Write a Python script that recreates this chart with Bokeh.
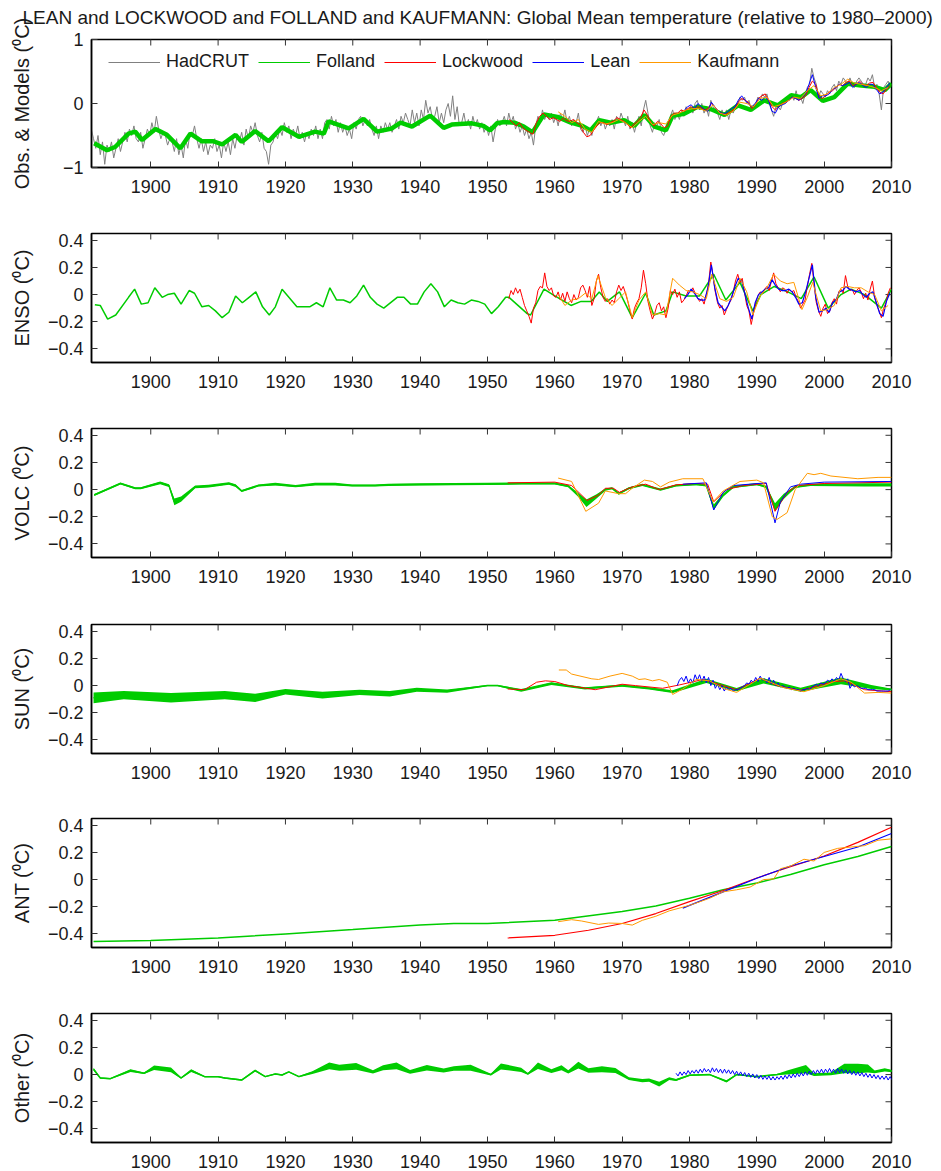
import numpy as np
from bokeh.plotting import figure
from bokeh.models import Range1d, FixedTicker, CustomJSTickFormatter
from bokeh.layouts import column
from bokeh.embed import file_html
from bokeh.resources import INLINE

FONT = "Liberation Sans"
X0, X1 = 1891.2, 2010.0
XTICKS = list(range(1900, 2011, 10))
C_HAD, C_FOL, C_LOC, C_LEAN, C_KAU = "#808080", "#00cc00", "#ff0000", "#0000ff", "#ff9900"
C_TICK = "#333333"

TITLE = "LEAN and LOCKWOOD and FOLLAND and KAUFMANN: Global Mean temperature (relative to 1980\u20132000)"
YLABELS = ["Obs. & Models (\u2070C)", "ENSO (\u2070C)", "VOLC (\u2070C)", "SUN (\u2070C)", "ANT (\u2070C)", "Other (\u2070C)"]
LEGEND_LABELS = ["HadCRUT", "Folland", "Lockwood", "Lean", "Kaufmann"]

# ---------------- Panel 1: observations & models ----------------
had_t = np.arange(1891 + 1 / 6, 2010, 1 / 3)
had_v = [
    -0.40, -0.55, -0.70, -0.50, -0.80, -0.60, -0.95, -0.65, -0.75, -0.60, -0.85, -0.70, -0.55, -0.75, -0.60,
    -0.45, -0.60, -0.40, -0.50, -0.35, -0.55, -0.60, -0.45, -0.70, -0.55, -0.40, -0.50,
    -0.30, -0.45, -0.20, -0.40, -0.55, -0.45, -0.50, -0.65, -0.55, -0.60, -0.75, -0.55, -0.80, -0.65, -0.85,
    -0.55, -0.70, -0.45, -0.50, -0.35, -0.55, -0.70, -0.55, -0.75, -0.60, -0.80, -0.65, -0.70, -0.55, -0.75,
    -0.65, -0.85, -0.60, -0.75, -0.60, -0.80, -0.55, -0.70, -0.50, -0.60, -0.45, -0.65, -0.40, -0.55, -0.35,
    -0.45, -0.30, -0.50, -0.60, -0.45, -0.70, -0.75, -0.95, -0.65, -0.60, -0.45, -0.55, -0.40, -0.50, -0.30,
    -0.45, -0.35, -0.55, -0.40, -0.50, -0.35, -0.55, -0.45, -0.60, -0.45, -0.55, -0.40, -0.50, -0.35, -0.55,
    -0.40, -0.55, -0.30, -0.25, -0.40, -0.20, -0.35, -0.25, -0.45, -0.30, -0.45, -0.35, -0.50, -0.40, -0.55,
    -0.30, -0.40, -0.25, -0.20, -0.35, -0.25, -0.35, -0.25, -0.40, -0.50, -0.35, -0.55, -0.35, -0.45, -0.30,
    -0.40, -0.30, -0.45, -0.35, -0.25, -0.40, -0.20, -0.30, -0.15, -0.25, -0.35, -0.10, -0.30, -0.15, -0.35,
    -0.10, -0.25, 0.05, -0.15, -0.05, -0.25, -0.20, -0.05, -0.30, -0.15, -0.30, -0.10, 0.00, -0.20, 0.12,
    -0.25, -0.05, -0.35, -0.30, -0.15, -0.35, -0.25, -0.40, -0.20, -0.35, -0.25, -0.40, -0.30, -0.45, -0.35,
    -0.50, -0.35, -0.60, -0.40, -0.25, -0.35, -0.30, -0.20, -0.35, -0.15, -0.30, -0.20, -0.40, -0.30, -0.45,
    -0.35, -0.50, -0.40, -0.55, -0.45, -0.65, -0.35, -0.20, -0.30, -0.10, -0.25, -0.15, -0.25, -0.15, -0.30,
    -0.20, -0.35, -0.15, -0.25, -0.10, -0.30, -0.20, -0.35, -0.25, -0.30, -0.15, -0.40, -0.45, -0.35, -0.50,
    -0.40, -0.50, -0.35, -0.30, -0.20, -0.35, -0.25, -0.40, -0.30, -0.35, -0.25, -0.40, -0.20, -0.30, -0.15,
    -0.25, -0.35, -0.20, -0.40, -0.30, -0.45, -0.30, -0.20, -0.35, -0.10, 0.05, -0.15, -0.35, -0.45, -0.30,
    -0.35, -0.25, -0.45, -0.50, -0.40, -0.35, -0.20, -0.10, -0.25, -0.15, -0.25, -0.10, -0.20, -0.05, -0.15,
    -0.05, -0.15, 0.00, 0.05, -0.10, 0.00, -0.15, -0.05, -0.20, 0.05, -0.05, -0.10, -0.15, -0.25, -0.10,
    -0.20, -0.10, -0.25, -0.10, -0.15, -0.05, 0.00, 0.10, 0.05, 0.10, 0.00, 0.05, -0.10, -0.05, 0.00,
    0.10, 0.05, 0.15, 0.10, 0.15, 0.00, -0.10, -0.20, -0.05, -0.05, -0.10, 0.00, 0.00, 0.10, 0.05,
    0.15, 0.05, 0.20, 0.05, 0.10, 0.00, 0.15, 0.25, 0.30, 0.55, 0.40, 0.30, 0.10, 0.20, 0.15,
    0.10, 0.20, 0.15, 0.25, 0.30, 0.20, 0.35, 0.30, 0.40, 0.35, 0.30, 0.40, 0.30, 0.25, 0.35,
    0.40, 0.35, 0.30, 0.30, 0.40, 0.35, 0.45, 0.25, 0.30, 0.15, -0.10, 0.25, 0.30, 0.35, 0.25,
]

fol_obs_t = [1891.6, 1893.5, 1894.7, 1896.7, 1897.7, 1898.7, 1900.7, 1902.4, 1904.4, 1905.9,
             1907.6, 1909.3, 1910.6, 1912.6, 1913.5, 1915.5, 1917.5, 1919.5, 1922.0, 1924.4,
             1925.7, 1926.4, 1929.4, 1931.6, 1933.6, 1935.8, 1937.1, 1938.8, 1941.5, 1943.5,
             1944.7, 1947.7, 1949.4, 1950.4, 1951.4, 1952.5, 1954.0, 1955.4, 1956.7, 1958.4,
             1960.4, 1962.4, 1964.1, 1965.3, 1966.6, 1968.3, 1970.3, 1971.8, 1973.3, 1974.8,
             1976.5, 1977.5, 1979.2, 1981.2, 1983.2, 1985.2, 1987.2, 1989.1, 1991.1, 1993.1,
             1995.1, 1996.6, 1998.0, 1999.8, 2001.5, 2003.5, 2005.5, 2007.5, 2009.0, 2010.0]
fol_obs_v = [-0.62, -0.73, -0.68, -0.47, -0.44, -0.57, -0.40, -0.49, -0.70, -0.47,
             -0.59, -0.59, -0.64, -0.49, -0.60, -0.43, -0.59, -0.37, -0.52, -0.44,
             -0.47, -0.28, -0.39, -0.24, -0.44, -0.39, -0.30, -0.36, -0.19, -0.38,
             -0.33, -0.31, -0.35, -0.42, -0.31, -0.29, -0.30, -0.36, -0.45, -0.17,
             -0.21, -0.30, -0.35, -0.42, -0.26, -0.30, -0.26, -0.35, -0.18, -0.36,
             -0.42, -0.19, -0.16, -0.05, -0.09, -0.18, -0.03, -0.10, 0.05, -0.03,
             0.13, 0.10, 0.21, 0.04, 0.10, 0.31, 0.28, 0.26, 0.21, 0.31]

loc_obs_t = np.arange(1953.25, 2010, 0.5)
loc_obs_v = [-0.25, -0.30, -0.35, -0.30, -0.38, -0.42, -0.45, -0.48, -0.30, -0.20,
             -0.15, -0.20, -0.25, -0.22, -0.25, -0.28, -0.23, -0.27, -0.28, -0.25,
             -0.30, -0.33, -0.45, -0.52, -0.50, -0.42, -0.35, -0.30, -0.30, -0.33,
             -0.30, -0.27, -0.22, -0.25, -0.28, -0.32, -0.38, -0.32, -0.28, -0.22,
             -0.10, -0.18, -0.30, -0.35, -0.28, -0.32, -0.38, -0.35, -0.20, -0.15,
             -0.15, -0.10, -0.12, -0.08, -0.05, -0.10, -0.05, -0.07, -0.10, -0.08,
             0.00, -0.05, -0.12, -0.15, -0.18, -0.15, -0.12, -0.08, 0.02, 0.08,
             0.05, 0.02, -0.08, -0.03, 0.08, 0.12, 0.15, 0.05, -0.05, -0.10,
             -0.05, 0.00, 0.02, 0.05, 0.10, 0.08, 0.05, 0.08, 0.12, 0.25,
             0.35, 0.30, 0.10, 0.08, 0.12, 0.18, 0.20, 0.25, 0.30, 0.28,
             0.33, 0.35, 0.28, 0.30, 0.35, 0.30, 0.28, 0.32, 0.33, 0.25,
             0.18, 0.15, 0.22, 0.28]

lean_obs_t = np.arange(1979.25, 2010, 0.5)
lean_obs_v = [-0.10, -0.05, -0.02, -0.08, 0.00, -0.05, -0.10, -0.12, 0.02, -0.05,
              -0.12, -0.15, -0.16, -0.12, -0.08, -0.05, 0.05, 0.12, 0.05, 0.00,
              -0.05, 0.00, 0.08, 0.05, 0.10, 0.05, -0.12, -0.15, -0.05, -0.02,
              0.00, 0.05, 0.10, 0.08, 0.05, 0.10, 0.15, 0.30, 0.45, 0.25,
              0.08, 0.12, 0.12, 0.15, 0.22, 0.25, 0.30, 0.28, 0.30, 0.33,
              0.25, 0.30, 0.33, 0.28, 0.25, 0.30, 0.30, 0.22, 0.15, 0.18,
              0.25, 0.32]

kau_obs_t = np.arange(1960.5, 2010, 1.0)
kau_obs_v = [-0.13, -0.20, -0.30, -0.25, -0.40, -0.45, -0.28, -0.32, -0.30, -0.25,
             -0.30, -0.38, -0.28, -0.20, -0.33, -0.30, -0.32, -0.18, -0.15, -0.10,
             -0.08, -0.08, -0.12, -0.02, -0.15, -0.18, -0.12, 0.02, 0.00, -0.05,
             0.08, 0.10, -0.05, -0.02, 0.03, 0.10, 0.08, 0.20, 0.28, 0.12,
             0.15, 0.25, 0.30, 0.38, 0.32, 0.30, 0.28, 0.25, 0.20, 0.25]

# ---------------- Panel 2: ENSO ----------------
fol_enso_t = [1891.7, 1892.5, 1893.6, 1894.8, 1896.7, 1897.6, 1898.6, 1899.6, 1900.6, 1901.7,
              1902.5, 1903.5, 1904.5, 1905.7, 1906.5, 1907.6, 1908.6, 1909.6, 1910.6, 1911.6,
              1912.6, 1913.6, 1914.6, 1915.6, 1916.6, 1917.6, 1918.5, 1919.5, 1921.7, 1923.6,
              1924.6, 1925.6, 1926.6, 1927.6, 1928.6, 1929.6, 1930.6, 1931.6, 1932.6, 1933.6,
              1934.6, 1936.6, 1937.6, 1938.6, 1939.6, 1940.6, 1941.6, 1942.6, 1943.6, 1944.6,
              1945.6, 1946.6, 1947.6, 1948.6, 1949.6, 1950.6, 1951.6, 1952.7, 1953.2, 1955.9,
              1956.4, 1958.4, 1959.7, 1962.4, 1963.9, 1965.4, 1966.6, 1967.8, 1969.6, 1971.5,
              1973.5, 1974.7, 1976.5, 1977.5, 1979.5, 1981.5, 1983.6, 1985.4, 1987.5, 1989.4,
              1990.6, 1992.6, 1994.6, 1996.6, 1998.5, 2000.6, 2002.5, 2004.0, 2006.0, 2008.5,
              2010.0]
fol_enso_v = [-0.074, -0.08, -0.18, -0.15, -0.02, 0.04, -0.07, -0.06, 0.05, -0.02,
              0.00, 0.01, -0.07, 0.03, 0.01, -0.09, -0.08, -0.12, -0.17, -0.13,
              -0.01, -0.06, -0.02, 0.02, -0.09, -0.15, -0.09, 0.04, -0.09, -0.09,
              -0.06, -0.09, 0.05, -0.04, -0.04, -0.06, -0.01, 0.07, -0.02, -0.07,
              -0.10, -0.02, -0.02, -0.07, -0.07, 0.02, 0.08, 0.02, -0.09, -0.04,
              -0.06, -0.07, -0.04, -0.05, -0.07, -0.14, -0.09, -0.02, -0.02, -0.14,
              -0.15, 0.04, 0.00, -0.08, -0.05, -0.05, 0.02, -0.05, 0.02, -0.17,
              0.01, -0.15, -0.12, 0.02, -0.01, -0.01, 0.15, -0.04, 0.09, -0.12,
              0.00, 0.06, 0.02, -0.03, 0.13, -0.10, 0.00, 0.04, 0.00, -0.10,
              0.04]

loc_enso_t = np.arange(1953 + 1 / 6, 2010, 1 / 3)
loc_enso_v = [-0.03, 0.03, 0.00, 0.05, 0.01, 0.04, -0.02, -0.08, -0.12, -0.16, -0.21, -0.10,
              -0.06, 0.03, 0.06, 0.05, 0.16, 0.06, 0.03, 0.05, -0.01, -0.02, 0.02, -0.04,
              0.01, -0.05, 0.02, -0.03, -0.06, 0.00, -0.04, -0.02, 0.05, 0.07, 0.03, -0.02,
              0.06, -0.08, -0.03, 0.10, 0.15, 0.05, -0.02, -0.05, -0.03, -0.07, -0.04, -0.06,
              0.02, 0.07, 0.03, 0.06, 0.01, -0.05, -0.12, -0.18, -0.10, -0.06, -0.03, 0.05,
              0.18, 0.08, -0.05, -0.12, -0.18, -0.14, -0.08, -0.06, -0.12, -0.09, -0.17, -0.10,
              0.03, 0.00, 0.04, -0.02, 0.02, -0.06, -0.04, -0.01, 0.03, 0.02, 0.05, 0.01,
              -0.02, -0.05, -0.03, -0.07, 0.00, 0.08, 0.24, 0.14, 0.02, -0.06, -0.10, -0.08,
              -0.15, -0.11, -0.07, -0.04, 0.02, 0.10, 0.15, 0.09, 0.12, 0.02, -0.08, -0.12,
              -0.22, -0.14, -0.06, -0.01, 0.02, 0.01, 0.04, 0.06, 0.03, 0.10, 0.16, 0.08,
              0.05, 0.02, 0.05, 0.04, 0.01, 0.04, 0.02, 0.03, -0.02, -0.05, -0.10, -0.07,
              -0.04, 0.06, 0.15, 0.23, 0.08, -0.06, -0.12, -0.16, -0.10, -0.07, -0.14, -0.12,
              -0.06, -0.03, -0.07, 0.02, 0.04, 0.01, 0.14, 0.06, 0.03, 0.04, 0.00, 0.03,
              0.05, 0.02, -0.03, 0.01, -0.04, 0.04, 0.10, -0.02, -0.08, -0.12, -0.17, -0.10,
              -0.06, 0.01, 0.05]

lean_enso_t = np.arange(1979.25, 2010, 0.5)
lean_enso_v = [-0.03, 0.00, 0.04, 0.01, -0.03, -0.04, -0.04, 0.05, 0.22, 0.05,
               -0.06, -0.09, -0.12, -0.08, -0.02, 0.06, 0.12, 0.10, 0.00, -0.10,
               -0.18, -0.06, 0.00, 0.02, 0.04, 0.05, 0.11, 0.07, 0.04, 0.03,
               0.03, 0.04, 0.02, -0.02, -0.07, -0.06, 0.02, 0.12, 0.22, -0.02,
               -0.13, -0.12, -0.10, -0.13, -0.06, -0.04, 0.02, 0.03, 0.06, 0.04,
               0.03, 0.02, 0.03, 0.00, -0.02, 0.01, 0.02, -0.06, -0.14, -0.16,
               -0.05, 0.01]

kau_enso_t = [1960.5, 1961.5, 1962.5, 1963.5, 1964.5, 1965.5, 1966.4, 1967.5, 1968.5, 1969.5,
              1970.5, 1971.5, 1972.5, 1973.5, 1974.5, 1975.5, 1976.5, 1977.5, 1978.5, 1979.5,
              1980.5, 1981.5, 1982.5, 1983.3, 1984.5, 1985.5, 1986.5, 1987.5, 1988.5, 1989.4,
              1990.5, 1991.5, 1992.5, 1993.5, 1994.5, 1995.5, 1996.7, 1997.5, 1998.3, 1999.5,
              2000.5, 2001.5, 2002.5, 2003.5, 2004.5, 2005.5, 2006.5, 2007.5, 2008.5, 2009.5]
kau_enso_v = [0.00, -0.08, -0.04, -0.03, 0.01, -0.03, 0.14, -0.02, -0.08, -0.03,
              0.02, -0.17, -0.04, 0.02, -0.15, -0.14, -0.15, 0.12, 0.07, 0.03,
              0.02, 0.00, -0.03, 0.15, -0.03, -0.05, -0.02, 0.12, 0.02, -0.15,
              -0.01, 0.05, 0.15, 0.10, 0.08, 0.09, -0.11, -0.02, 0.09, -0.12,
              -0.11, -0.08, 0.05, 0.06, 0.05, 0.05, 0.02, 0.00, -0.12, -0.08]

# ---------------- Panel 3: VOLC ----------------
fol_volc_t = [1891.6, 1895.5, 1897.7, 1898.5, 1901.4, 1902.7, 1903.5, 1904.5, 1906.6, 1908.6,
              1911.6, 1912.6, 1913.5, 1916.0, 1918.5, 1921.5, 1924.4, 1927.4, 1929.9, 1933.3,
              1935.3, 1940.0, 1945.0, 1950.0, 1955.0, 1960.0, 1962.0, 1963.5, 1964.7, 1966.2,
              1967.5, 1968.5, 1969.5, 1971.0, 1973.0, 1975.7, 1978.0, 1981.0, 1982.5, 1983.6,
              1985.0, 1986.5, 1990.0, 1991.4, 1992.7, 1994.0, 1995.7, 1998.0, 2002.0, 2006.0,
              2010.0]
fol_volc_c = [-0.04, 0.045, 0.01, 0.01, 0.05, 0.03, -0.09, -0.07, 0.02, 0.025,
              0.045, 0.03, -0.01, 0.03, 0.04, 0.025, 0.04, 0.04, 0.03, 0.03,
              0.035, 0.038, 0.04, 0.042, 0.045, 0.045, 0.025, -0.04, -0.10, -0.05,
              0.0, 0.01, -0.03, 0.01, 0.035, 0.0, 0.03, 0.04, 0.03, -0.13,
              -0.04, 0.02, 0.04, 0.02, -0.13, -0.05, 0.02, 0.035, 0.035, 0.035,
              0.035]
fol_volc_hw = [0.008, 0.008, 0.008, 0.008, 0.01, 0.01, 0.025, 0.02, 0.01, 0.01,
               0.01, 0.01, 0.008, 0.008, 0.01, 0.008, 0.01, 0.01, 0.008, 0.008,
               0.008, 0.008, 0.008, 0.008, 0.008, 0.008, 0.008, 0.015, 0.028, 0.015,
               0.008, 0.008, 0.008, 0.008, 0.008, 0.008, 0.008, 0.008, 0.008, 0.02,
               0.012, 0.008, 0.008, 0.008, 0.03, 0.02, 0.008, 0.008, 0.01, 0.012,
               0.012]

loc_volc_t = [1953, 1960, 1962.5, 1964.8, 1966.5, 1967.5, 1968.7, 1969.6, 1971.5, 1973.5,
              1975.5, 1978, 1981, 1982.7, 1983.6, 1985.5, 1988, 1991.4, 1992.7, 1994.5,
              1996, 2000, 2010]
loc_volc_v = [0.05, 0.055, 0.03, -0.08, -0.04, 0.01, 0.01, -0.02, 0.02, 0.04,
              0.0, 0.035, 0.045, 0.04, -0.09, 0.0, 0.03, 0.045, -0.16, -0.02,
              0.03, 0.045, 0.055]

lean_volc_t = [1979, 1982.5, 1983.6, 1985, 1986.5, 1991.4, 1992.7, 1993.5, 1995, 1996.5, 2000, 2010]
lean_volc_v = [0.04, 0.05, -0.15, -0.02, 0.03, 0.05, -0.245, -0.09, 0.02, 0.04, 0.055, 0.06]

kau_volc_t = [1960.5, 1962.5, 1964.6, 1966.5, 1967.5, 1969.5, 1970.5, 1971.5, 1973.3, 1974.5,
              1975.7, 1977, 1979, 1982, 1983.5, 1985, 1987.5, 1990, 1991, 1992.3,
              1993, 1994.5, 1995.7, 1997.5, 1998.5, 1999.5, 2001, 2005, 2008, 2010]
kau_volc_v = [0.085, 0.06, -0.16, -0.10, -0.01, -0.03, -0.03, 0.01, 0.07, 0.06,
              0.02, 0.055, 0.08, 0.08, -0.09, -0.01, 0.06, 0.07, 0.05, -0.20,
              -0.22, -0.17, 0.0, 0.12, 0.11, 0.12, 0.10, 0.08, 0.09, 0.09]

# ---------------- Panel 4: SUN ----------------
fol_sun_t = [1891.5, 1896, 1903, 1911, 1915.5, 1920, 1925.5, 1931, 1935.5, 1939.5,
             1944, 1950, 1951.5, 1955, 1959.5, 1964.5, 1970, 1974, 1977.5, 1982.5,
             1987, 1991, 1996.5, 2002.5, 2007, 2010.2]
fol_sun_c = [-0.09, -0.07, -0.09, -0.07, -0.09, -0.045, -0.07, -0.05, -0.06, -0.03,
             -0.04, 0.0, 0.0, -0.035, 0.015, -0.02, 0.0, -0.02, -0.045, 0.035,
             -0.03, 0.035, -0.03, 0.035, -0.01, -0.03]
fol_sun_hw = [0.04, 0.03, 0.035, 0.03, 0.03, 0.02, 0.025, 0.02, 0.02, 0.015,
              0.012, 0.005, 0.005, 0.01, 0.01, 0.008, 0.008, 0.008, 0.01, 0.015,
              0.012, 0.02, 0.015, 0.025, 0.015, 0.006]

loc_sun_t = [1953, 1955.5, 1957.3, 1958.6, 1960, 1962, 1966, 1970, 1972, 1976,
             1978.5, 1982, 1985, 1987, 1990.5, 1993, 1996.5, 2001.5, 2003, 2006, 2010]
loc_sun_v = [-0.025, -0.03, 0.025, 0.035, 0.03, 0.0, -0.03, 0.01, 0.0, -0.02,
             0.005, 0.045, 0.0, -0.03, 0.055, 0.0, -0.035, 0.03, 0.035, -0.03, -0.045]

lean_sun_t = np.arange(1978 + 1 / 6, 2010, 1 / 3)
lean_sun_v = [0.00, 0.04, 0.06, 0.03, 0.07, 0.02, 0.05, 0.02, 0.08, 0.04, 0.08, 0.03,
              0.07, 0.02, 0.06, 0.00, 0.04, -0.02, 0.01, -0.03, 0.00, -0.04, -0.01, -0.03,
              -0.02, -0.04, -0.03, -0.03, -0.02, -0.01, 0.00, 0.02, 0.01, 0.04, 0.02, 0.06,
              0.03, 0.07, 0.04, 0.05, 0.02, 0.06, 0.01, 0.04, 0.00, 0.02, -0.01, 0.00,
              -0.01, -0.02, -0.01, -0.03, -0.02, -0.03, -0.03, -0.04, -0.03, -0.03, -0.02, -0.03,
              -0.01, 0.00, 0.01, 0.00, 0.02, 0.01, 0.02, 0.04, 0.03, 0.05, 0.03, 0.06,
              0.04, 0.09, 0.05, 0.03, 0.05, -0.02, 0.01, -0.01, 0.00, -0.01, -0.02, -0.02,
              -0.02, -0.03, -0.03, -0.03, -0.03, -0.04, -0.04, -0.04, -0.04, -0.04, -0.04, -0.03]

kau_sun_t = [1960.6, 1961.7, 1962.5, 1965.5, 1966.5, 1968.2, 1970, 1971.5, 1972.5, 1973.4,
             1974.5, 1975.5, 1976.7, 1977.5, 1979, 1981, 1983, 1985, 1987, 1990.5,
             1992, 1994, 1997, 2000, 2002.5, 2004, 2006, 2008, 2010]
kau_sun_v = [0.115, 0.115, 0.085, 0.05, 0.045, 0.07, 0.09, 0.07, 0.045, 0.05,
             0.035, 0.045, 0.025, -0.065, -0.025, 0.045, 0.035, -0.02, -0.05, 0.055,
             0.025, -0.015, -0.045, 0.0, 0.05, 0.025, -0.055, -0.05, -0.055]

# ---------------- Panel 5: ANT ----------------
fol_ant_t = [1891.5, 1900, 1910, 1920, 1930, 1940, 1945, 1950, 1960, 1970,
             1975, 1980, 1985, 1990, 1995, 2000, 2005, 2010]
fol_ant_v = [-0.455, -0.448, -0.43, -0.40, -0.368, -0.335, -0.323, -0.323, -0.30, -0.235,
             -0.194, -0.137, -0.075, -0.025, 0.037, 0.11, 0.17, 0.244]

loc_ant_t = [1953, 1960, 1965, 1970, 1975, 1980, 1985, 1990, 1995, 2000, 2005, 2010]
loc_ant_v = [-0.43, -0.41, -0.373, -0.323, -0.25, -0.162, -0.08, 0.012, 0.095, 0.174, 0.274, 0.386]

lean_ant_t = [1979, 1985, 1990, 1995, 2000, 2005, 2010]
lean_ant_v = [-0.21, -0.09, 0.01, 0.10, 0.17, 0.24, 0.34]

kau_ant_t = [1960.5, 1962.5, 1964, 1966.5, 1968, 1970, 1971.5, 1973, 1975, 1977,
             1980, 1983, 1985, 1987, 1989, 1991, 1992.5, 1993.5, 1995, 1997,
             1998.5, 2000, 2002, 2004, 2006, 2008, 2010]
kau_ant_v = [-0.31, -0.295, -0.305, -0.33, -0.32, -0.323, -0.335, -0.30, -0.27, -0.23,
             -0.19, -0.137, -0.09, -0.075, -0.055, 0.0, 0.005, 0.08, 0.10, 0.15,
             0.137, 0.20, 0.23, 0.24, 0.25, 0.29, 0.30]

# ---------------- Panel 6: Other ----------------
fol_oth_t = [1891.5, 1892.5, 1894, 1897, 1899, 1900.5, 1903, 1904.5, 1906, 1908,
             1910, 1911, 1913.5, 1915.5, 1917, 1918.5, 1919.5, 1920.5, 1922, 1924,
             1926.5, 1928, 1930.5, 1933, 1934.5, 1936.5, 1938.5, 1941, 1943.5, 1945,
             1947.5, 1950.5, 1952, 1955, 1956, 1957.5, 1959.5, 1961, 1962, 1963.5,
             1965, 1967, 1969, 1971, 1973, 1974, 1975.5, 1977, 1978, 1980,
             1983, 1985.5, 1987, 1990, 1993, 1994.5, 1997.3, 1998.5, 2001, 2003,
             2005, 2006.5, 2007.5, 2009, 2010.2]
fol_oth_c = [0.04, -0.025, -0.03, 0.03, 0.01, 0.05, 0.035, -0.025, 0.03, -0.015,
             -0.015, -0.025, -0.04, 0.03, -0.015, 0.005, -0.003, 0.02, -0.015, 0.015,
             0.065, 0.05, 0.06, 0.02, 0.05, 0.065, 0.02, 0.05, 0.03, 0.045,
             0.05, 0.0, 0.06, 0.035, 0.005, 0.065, 0.025, 0.05, 0.02, 0.07,
             0.03, 0.04, 0.03, -0.03, -0.045, -0.04, -0.07, -0.03, -0.04, -0.005,
             0.0, -0.05, 0.0, -0.015, 0.0, 0.015, 0.04, 0.0, 0.005, 0.045,
             0.045, 0.045, 0.02, 0.035, 0.025]
fol_oth_hw = [0.01, 0.005, 0.005, 0.01, 0.006, 0.017, 0.017, 0.006, 0.01, 0.005,
              0.005, 0.005, 0.005, 0.008, 0.005, 0.005, 0.005, 0.005, 0.005, 0.01,
              0.025, 0.022, 0.025, 0.012, 0.018, 0.025, 0.013, 0.02, 0.015, 0.017,
              0.022, 0.006, 0.022, 0.016, 0.006, 0.024, 0.014, 0.018, 0.012, 0.025,
              0.016, 0.022, 0.018, 0.01, 0.012, 0.012, 0.017, 0.01, 0.008, 0.005,
              0.005, 0.008, 0.005, 0.005, 0.005, 0.015, 0.03, 0.01, 0.01, 0.035,
              0.035, 0.03, 0.01, 0.012, 0.008]

lean_oth_t = np.arange(1978.0, 2010.2, 0.3)
lean_oth_v = [0.01, -0.01, 0.02, -0.005, 0.02, 0.00, 0.03, 0.005, 0.03, 0.01,
              0.035, 0.01, 0.04, 0.015, 0.045, 0.02, 0.04, 0.015, 0.05, 0.02,
              0.045, 0.015, 0.04, 0.01, 0.04, 0.01, 0.035, 0.005, 0.03, 0.00,
              0.025, -0.005, 0.02, -0.01, 0.015, -0.015, 0.01, -0.02, 0.005, -0.025,
              0.00, -0.03, -0.005, -0.035, -0.01, -0.035, -0.01, -0.04, -0.015, -0.04,
              -0.015, -0.035, -0.01, -0.035, -0.005, -0.03, 0.00, -0.025, 0.005, -0.02,
              0.01, -0.015, 0.015, -0.01, 0.02, -0.005, 0.025, 0.00, 0.03, 0.005,
              0.035, 0.01, 0.04, 0.01, 0.04, 0.015, 0.045, 0.015, 0.04, 0.01,
              0.045, 0.015, 0.04, 0.01, 0.035, 0.005, 0.03, 0.00, 0.025, -0.005,
              0.02, -0.01, 0.015, -0.015, 0.01, -0.02, 0.005, -0.025, 0.00, -0.03,
              -0.005, -0.035, -0.01, -0.035, -0.01, -0.04, -0.015, -0.04]
lean_oth_t = lean_oth_t[:len(lean_oth_v)]

YFMT = CustomJSTickFormatter(code="""
if (Math.abs(tick) < 1e-9) { return "0"; }
var a = Math.abs(tick);
var s = (Math.abs(a - Math.round(a)) < 1e-9) ? a.toFixed(0) : a.toFixed(1);
return (tick < 0 ? "\u2212" : "") + s;
""")


def style_axis(ax, ticks, standoff):
    ax.ticker = FixedTicker(ticks=ticks)
    ax.major_tick_in = 6
    ax.major_tick_out = 0
    ax.minor_tick_line_color = None
    ax.major_tick_line_color = C_TICK
    ax.major_tick_line_width = 1
    ax.axis_line_color = "black"
    ax.axis_line_width = 1.5
    ax.major_label_text_font = FONT
    ax.major_label_text_font_size = "18px"
    ax.major_label_text_color = "#1a1a1a"
    ax.major_label_standoff = standoff


def make_fig(idx, yr, yticks, top, fh, bottom, lab_standoff):
    p = figure(frame_width=800, frame_height=fh, output_backend="svg", toolbar_location=None,
               x_range=Range1d(X0, X1), y_range=Range1d(*yr),
               min_border_left=91, min_border_right=49, min_border_top=top, min_border_bottom=bottom)
    p.xgrid.visible = False
    p.ygrid.visible = False
    p.outline_line_color = "black"
    p.outline_line_width = 1.5
    p.background_fill_color = "white"
    p.border_fill_color = "white"
    style_axis(p.xaxis[0], XTICKS, 12)
    style_axis(p.yaxis[0], yticks, 8)
    p.yaxis[0].formatter = YFMT
    p.yaxis[0].axis_label = YLABELS[idx]
    p.yaxis[0].axis_label_text_font = FONT
    p.yaxis[0].axis_label_text_font_size = "20px"
    p.yaxis[0].axis_label_text_font_style = "normal"
    p.yaxis[0].axis_label_text_color = "#1a1a1a"
    p.yaxis[0].axis_label_standoff = lab_standoff
    # inward tick marks on the top and right frame edges (half of each dash is clipped by the frame)
    p.scatter(x=XTICKS, y=[yr[1]] * len(XTICKS), marker="dash", size=12, angle=np.pi / 2,
              line_color=C_TICK, line_width=1)
    p.scatter(x=[X1] * len(yticks), y=yticks, marker="dash", size=12,
              line_color=C_TICK, line_width=1)
    return p


def band(p, t, c, hw):
    c = np.array(c)
    hw = np.array(hw)
    p.varea(x=t, y1=c - hw, y2=c + hw, fill_color=C_FOL)
    p.line(t, c, line_color=C_FOL, line_width=1.5)


YT_SMALL = [-0.4, -0.2, 0, 0.2, 0.4]
YR_SMALL = (-0.5, 0.45)

# Panel 1 (the figure is pulled up so that its frame starts at the same height as the reference)
p1 = make_fig(0, (-1, 1), [-1, 0, 1], 48, 128, 33, 27)
p1.margin = (-9, 0, 0, 0)
p1.title.text = TITLE
p1.title.text_font = FONT
p1.title.text_font_size = "19px"
p1.title.text_font_style = "normal"
p1.title.text_color = "#1a1a1a"
p1.title.align = "left"
p1.title.offset = -69
p1.title.standoff = 24
p1.line(had_t, had_v, line_color=C_HAD, line_width=1, legend_label=LEGEND_LABELS[0])
p1.line(fol_obs_t, fol_obs_v, line_color=C_FOL, line_width=1.2, legend_label=LEGEND_LABELS[1])
p1.line(fol_obs_t, fol_obs_v, line_color=C_FOL, line_width=4.5)
p1.line(loc_obs_t, loc_obs_v, line_color=C_LOC, line_width=1, legend_label=LEGEND_LABELS[2])
p1.line(lean_obs_t, lean_obs_v, line_color=C_LEAN, line_width=1, legend_label=LEGEND_LABELS[3])
p1.line(kau_obs_t, kau_obs_v, line_color=C_KAU, line_width=1, legend_label=LEGEND_LABELS[4])
lg = p1.legend[0]
lg.orientation = "horizontal"
lg.location = (17, 95)
lg.border_line_color = None
lg.background_fill_alpha = 0
lg.label_text_font = FONT
lg.label_text_font_size = "18px"
lg.label_text_color = "#1a1a1a"
lg.glyph_width = 52
lg.label_standoff = 6
lg.spacing = 9
lg.padding = 0
lg.margin = 0

# Panel 2 ENSO
p2 = make_fig(1, YR_SMALL, YT_SMALL, 33, 129, 33, 12)
p2.line(fol_enso_t, fol_enso_v, line_color=C_FOL, line_width=1.5)
p2.line(loc_enso_t, loc_enso_v, line_color=C_LOC, line_width=1)
p2.line(lean_enso_t, lean_enso_v, line_color=C_LEAN, line_width=1.2)
p2.line(kau_enso_t, kau_enso_v, line_color=C_KAU, line_width=1)

# Panel 3 VOLC
p3 = make_fig(2, YR_SMALL, YT_SMALL, 33, 129, 33, 12)
band(p3, fol_volc_t, fol_volc_c, fol_volc_hw)
p3.line(loc_volc_t, loc_volc_v, line_color=C_LOC, line_width=1)
p3.line(lean_volc_t, lean_volc_v, line_color=C_LEAN, line_width=1)
p3.line(kau_volc_t, kau_volc_v, line_color=C_KAU, line_width=1)

# Panel 4 SUN
p4 = make_fig(3, YR_SMALL, YT_SMALL, 34, 129, 32, 12)
band(p4, fol_sun_t, fol_sun_c, fol_sun_hw)
p4.line(loc_sun_t, loc_sun_v, line_color=C_LOC, line_width=1)
p4.line(lean_sun_t, lean_sun_v, line_color=C_LEAN, line_width=1)
p4.line(kau_sun_t, kau_sun_v, line_color=C_KAU, line_width=1)

# Panel 5 ANT
p5 = make_fig(4, YR_SMALL, YT_SMALL, 33, 129, 33, 12)
p5.line(fol_ant_t, fol_ant_v, line_color=C_FOL, line_width=1.5)
p5.line(loc_ant_t, loc_ant_v, line_color=C_LOC, line_width=1.2)
p5.line(lean_ant_t, lean_ant_v, line_color=C_LEAN, line_width=1.2)
p5.line(kau_ant_t, kau_ant_v, line_color=C_KAU, line_width=1)

# Panel 6 Other
p6 = make_fig(5, YR_SMALL, YT_SMALL, 33, 129, 28, 12)
band(p6, fol_oth_t, fol_oth_c, fol_oth_hw)
p6.line(lean_oth_t, lean_oth_v, line_color=C_LEAN, line_width=1)

layout = column(p1, p2, p3, p4, p5, p6, spacing=0)
open("out.html", "w").write(file_html(layout, INLINE))
